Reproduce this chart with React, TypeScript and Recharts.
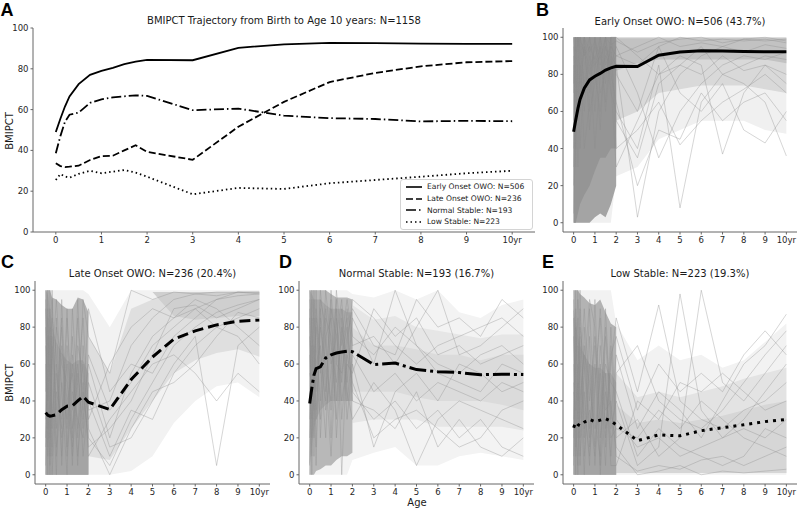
import React from 'react';
import { ComposedChart, Line, Area, XAxis, YAxis, Legend } from 'recharts';

const n = null;
const AGES = [0, 0.1, 0.2, 0.3, 0.5, 0.75, 1, 1.25, 1.5, 1.75, 2, 3, 4, 5, 6, 7, 8, 9, 10];
const X_TICKS = [0, 1, 2, 3, 4, 5, 6, 7, 8, 9, 10];
const Y_TICKS = [0, 20, 40, 60, 80, 100];

const SERIES_NAMES = ['Early Onset OWO: N=506', 'Late Onset OWO: N=236', 'Normal Stable: N=193', 'Low Stable: N=223'];
const PANEL_TITLES = [
  'BMIPCT Trajectory from Birth to Age 10 years: N=1158',
  'Early Onset OWO: N=506 (43.7%)',
  'Late Onset OWO: N=236 (20.4%)',
  'Normal Stable: N=193 (16.7%)',
  'Low Stable: N=223 (19.3%)',
];
const PANEL_LETTERS = ['A', 'B', 'C', 'D', 'E'];

// cluster mean trajectories
const EARLY_MEAN = [49, 55.5, 61.5, 66.5, 72.5, 77, 79, 80.5, 82.3, 83.5, 84.4, 84.2, 90.3, 92, 92.7, 92.6, 92.3, 92.2, 92.2];
const LATE_MEAN = [33.7, 32.3, 31.8, 32, 32.5, 35.3, 37.2, 37.4, 40, 42.5, 39.3, 35.4, 51.6, 63.8, 73.5, 78, 81.2, 83.2, 83.8];
const NORMAL_MEAN = [38.6, 47, 54, 57.5, 58.5, 63.3, 65, 66, 66.5, 67, 66.7, 59.7, 60.5, 57, 55.8, 55.4, 54.2, 54.5, 54.3];
const LOW_MEAN = [25.5, 28.4, 27.2, 26.6, 28.5, 30, 28.8, 29.6, 30.4, 29.1, 27.1, 18.5, 21.6, 21.1, 23.9, 25.5, 27.1, 28.8, 30];

// density envelopes of individual trajectories (Early Onset)
const B_LIGHT_LO = [0, 0, 0, 0, 0, 0, 0, 0, 0, 0, 25, 30, 45, 50, 55, 55, 55, 50, 48];
const B_LIGHT_HI = [100, 100, 100, 100, 100, 100, 100, 100, 100, 100, 100, 100, 100, 100, 100, 100, 100, 100, 100];
const B_MID_LO = [n, n, n, n, n, n, n, n, n, n, 55, 60, 70, 72, 74, 74, 74, 72, 70];
const B_MID_HI = [n, n, n, n, n, n, n, n, n, n, 100, 100, 100, 100, 100, 100, 100, 100, 100];
const B_TOP_LO = [n, n, n, n, n, n, n, n, n, n, 82, 86, 88, 88, 88, 88, 88, 88, 86];
const B_TOP_HI = [n, n, n, n, n, n, n, n, n, n, 99.5, 99.5, 99.5, 99.5, 99.5, 99.5, 99.5, 99.5, 99.5];
const B_DARK_LO = [0, 0, 0, 0, 0, 0, 3, 5, 3, 10, 20, n, n, n, n, n, n, n, n];
const B_DARK_HI = [100, 100, 100, 100, 100, 100, 100, 100, 100, 100, 100, n, n, n, n, n, n, n, n];
const B_CORE_LO = [0, 0, 5, 10, 15, 20, 28, 35, 35, 40, 40, n, n, n, n, n, n, n, n];
const B_CORE_HI = [100, 100, 100, 100, 100, 100, 100, 100, 100, 100, 100, n, n, n, n, n, n, n, n];

// Late Onset
const C_LIGHT_LO = [0, 0, 0, 0, 0, 0, 0, 0, 0, 0, 0, 0, 2, 10, 28, 40, 48, 50, 42];
const C_LIGHT_HI = [100, 100, 100, 100, 100, 100, 100, 100, 100, 100, 98, 80, 100, 100, 100, 100, 100, 100, 100];
const C_MID_LO = [n, n, n, n, n, n, n, n, n, n, 10, 8, 25, 40, 55, 62, 66, 68, 64];
const C_MID_HI = [n, n, n, n, n, n, n, n, n, n, 75, 55, 90, 95, 98, 99, 99, 99, 99];
const C_TOP_LO = [n, n, n, n, n, n, n, n, n, n, n, n, n, 99, 86, 84, 85, 86, 86];
const C_TOP_HI = [n, n, n, n, n, n, n, n, n, n, n, n, n, 99, 99, 99, 99, 99, 99];
const C_DARK_LO = [0, 0, 0, 0, 0, 0, 0, 0, 0, 0, 0, n, n, n, n, n, n, n, n];
const C_DARK_HI = [100, 100, 100, 96, 95, 92, 90, 90, 96, 95, 88, n, n, n, n, n, n, n, n];
const C_CORE_LO = [0, 0, 0, 0, 0, 0, 0, 0, 0, 0, 0, n, n, n, n, n, n, n, n];
const C_CORE_HI = [100, 98, 90, 80, 72, 66, 62, 60, 62, 62, 55, n, n, n, n, n, n, n, n];

// Normal Stable
const D_LIGHT_LO = [0, 0, 0, 0, 0, 0, 0, 0, 0, 0, 8, 12, 15, 5, 5, 10, 12, 10, 8];
const D_LIGHT_HI = [100, 100, 100, 100, 100, 100, 100, 100, 100, 100, 98, 96, 100, 95, 100, 88, 85, 92, 95];
const D_MID_LO = [n, n, n, n, n, n, n, n, n, n, 28, 30, 30, 30, 26, 26, 26, 26, 24];
const D_MID_HI = [n, n, n, n, n, n, n, n, n, n, 92, 84, 86, 80, 78, 76, 74, 76, 76];
const D_TOP_LO = [n, n, n, n, n, n, n, n, n, n, 45, 45, 45, 42, 40, 40, 40, 38, 35];
const D_TOP_HI = [n, n, n, n, n, n, n, n, n, n, 80, 70, 70, 68, 65, 65, 62, 65, 65];
const D_DARK_LO = [0, 0, 0, 2, 3, 5, 5, 8, 10, 10, 12, n, n, n, n, n, n, n, n];
const D_DARK_HI = [100, 100, 100, 100, 100, 100, 98, 96, 96, 96, 95, n, n, n, n, n, n, n, n];
const D_CORE_LO = [5, 15, 25, 30, 35, 38, 40, 40, 40, 40, 40, n, n, n, n, n, n, n, n];
const D_CORE_HI = [100, 98, 95, 95, 95, 92, 90, 90, 90, 88, 88, n, n, n, n, n, n, n, n];

// Low Stable
const E_LIGHT_LO = [0, 0, 0, 0, 0, 0, 0, 0, 0, 0, 0, 0, 0, 0, 0, 0, 0, 0, 0];
const E_LIGHT_HI = [100, 100, 100, 100, 100, 100, 100, 100, 100, 100, 82, 62, 70, 62, 65, 58, 62, 72, 82];
const E_MID_LO = [n, n, n, n, n, n, n, n, n, n, 1, 1, 1, 1, 1, 1, 1, 1, 1];
const E_MID_HI = [n, n, n, n, n, n, n, n, n, n, 55, 42, 45, 42, 45, 48, 52, 55, 58];
const E_TOP_LO = [n, n, n, n, n, n, n, n, n, n, 1, 1, 1, 1, 1, 1, 1, 1, 1];
const E_TOP_HI = [n, n, n, n, n, n, n, n, n, n, 38, 28, 30, 28, 30, 32, 35, 38, 40];
const E_DARK_LO = [0, 0, 0, 0, 0, 0, 0, 0, 0, 0, 0, n, n, n, n, n, n, n, n];
const E_DARK_HI = [100, 100, 100, 98, 96, 93, 92, 95, 88, 82, 80, n, n, n, n, n, n, n, n];
const E_CORE_LO = [0, 0, 0, 0, 0, 0, 0, 0, 0, 0, 0, n, n, n, n, n, n, n, n];
const E_CORE_HI = [90, 82, 75, 70, 65, 60, 58, 58, 55, 55, 50, n, n, n, n, n, n, n, n];

// sample individual trajectories per cluster
const B_TRAJ = [
  [90, 40, 100, 70, 95, 50, 85, 95, 60, 90, 85, 3, 60, 80, 90, 95, 92, 96, 94],
  [20, 85, 60, 100, 75, 90, 40, 80, 95, 70, 60, 40, 85, 8, 65, 80, 85, 90, 88],
  [70, 100, 30, 85, 60, 100, 80, 60, 90, 85, 95, 70, 35, 60, 75, 85, 90, 88, 92],
  [5, 50, 90, 60, 100, 80, 95, 85, 100, 75, 30, 55, 80, 90, 85, 37, 70, 85, 80],
  [100, 75, 55, 90, 40, 65, 100, 70, 80, 95, 90, 85, 95, 70, 60, 75, 50, 43, 60],
  [55, 95, 80, 40, 85, 95, 60, 100, 75, 100, 100, 90, 80, 85, 95, 80, 75, 65, 36],
  [85, 30, 100, 95, 70, 85, 90, 50, 100, 80, 65, 20, 50, 45, 70, 55, 65, 70, 55],
  [40, 100, 70, 80, 100, 60, 75, 95, 65, 100, 80, 60, 95, 100, 98, 99, 98, 99, 97],
  [95, 65, 85, 100, 90, 100, 85, 90, 95, 85, 90, 95, 100, 95, 97, 95, 99, 98, 99],
  [30, 90, 100, 75, 95, 70, 100, 80, 90, 95, 55, 35, 75, 85, 80, 90, 82, 85, 75],
  [75, 100, 95, 100, 90, 95, 88, 100, 85, 92, 40, 50, 65, 42, 55, 65, 72, 80, 70],
  [100, 85, 100, 90, 100, 92, 98, 88, 100, 96, 98, 92, 97, 99, 100, 97, 99, 100, 98],
];
const C_TRAJ = [
  [95, 10, 80, 30, 60, 20, 40, 15, 95, 30, 60, 20, 55, 75, 85, 90, 95, 97, 98],
  [5, 90, 20, 70, 10, 50, 30, 60, 10, 45, 20, 5, 30, 50, 70, 80, 88, 92, 95],
  [60, 0, 100, 15, 85, 5, 70, 25, 50, 85, 35, 40, 70, 85, 95, 98, 99, 99, 99],
  [30, 75, 5, 95, 25, 80, 10, 45, 30, 20, 50, 15, 20, 40, 60, 75, 5, 70, 80],
  [100, 40, 60, 0, 45, 30, 60, 5, 70, 55, 10, 30, 45, 60, 65, 55, 40, 55, 45],
  [15, 60, 90, 50, 0, 95, 25, 75, 20, 95, 75, 55, 100, 95, 99, 98, 97, 99, 98],
  [80, 25, 40, 85, 65, 10, 85, 35, 60, 10, 40, 10, 35, 30, 55, 70, 80, 85, 90],
  [45, 100, 10, 60, 95, 45, 0, 90, 40, 60, 30, 60, 80, 90, 85, 95, 90, 80, 70],
  [0, 50, 75, 25, 80, 60, 50, 20, 85, 35, 90, 45, 60, 55, 75, 85, 95, 99, 99],
  [70, 15, 35, 100, 15, 70, 40, 55, 5, 70, 25, 0, 25, 45, 50, 60, 75, 88, 85],
  [20, 85, 50, 10, 55, 25, 90, 10, 55, 25, 65, 35, 50, 70, 80, 90, 80, 75, 60],
  [90, 35, 0, 75, 35, 85, 15, 65, 25, 50, 15, 25, 40, 65, 90, 92, 85, 90, 95],
];
const D_TRAJ = [
  [40, 95, 20, 80, 55, 90, 60, 75, 95, 50, 85, 60, 100, 70, 55, 50, 45, 60, 55],
  [90, 10, 70, 30, 85, 45, 95, 20, 65, 80, 45, 30, 40, 25, 35, 20, 30, 15, 10],
  [5, 60, 95, 45, 100, 70, 35, 85, 50, 90, 70, 75, 60, 80, 100, 65, 70, 80, 90],
  [65, 30, 50, 100, 20, 75, 85, 40, 80, 30, 60, 15, 45, 55, 40, 60, 55, 45, 50],
  [100, 75, 10, 60, 70, 35, 55, 95, 0, 70, 95, 85, 70, 60, 70, 75, 80, 85, 75],
  [20, 85, 60, 15, 90, 55, 10, 65, 90, 45, 30, 50, 35, 5, 30, 40, 35, 30, 25],
  [75, 0, 85, 70, 40, 100, 70, 50, 75, 95, 75, 65, 80, 70, 60, 55, 65, 70, 60],
  [55, 50, 35, 90, 60, 20, 90, 75, 40, 60, 55, 90, 75, 85, 65, 70, 60, 65, 70],
  [0, 100, 75, 35, 80, 60, 40, 100, 70, 85, 40, 35, 25, 45, 15, 30, 15, 10, 20],
  [85, 40, 100, 55, 30, 85, 75, 30, 85, 40, 65, 45, 55, 40, 50, 45, 40, 50, 45],
  [30, 70, 45, 85, 65, 40, 100, 60, 55, 75, 90, 70, 65, 95, 80, 85, 75, 95, 85],
  [95, 20, 55, 5, 95, 80, 20, 90, 30, 65, 50, 20, 30, 35, 25, 15, 20, 35, 40],
];
const E_TRAJ = [
  [60, 10, 95, 30, 70, 15, 50, 85, 20, 60, 85, 45, 92, 40, 30, 25, 35, 40, 50],
  [10, 80, 40, 100, 20, 90, 30, 10, 75, 25, 40, 5, 15, 98, 35, 20, 30, 45, 60],
  [95, 25, 5, 55, 90, 40, 75, 45, 5, 70, 20, 30, 10, 20, 100, 50, 40, 55, 70],
  [30, 60, 85, 10, 45, 5, 95, 20, 55, 10, 55, 70, 40, 30, 25, 35, 50, 65, 78],
  [0, 100, 20, 75, 10, 60, 15, 70, 35, 40, 10, 2, 5, 3, 8, 10, 5, 10, 15],
  [75, 35, 60, 5, 80, 25, 60, 5, 90, 30, 65, 25, 45, 35, 20, 40, 60, 70, 87],
  [45, 0, 70, 50, 0, 75, 5, 55, 15, 80, 30, 15, 20, 10, 15, 20, 25, 20, 30],
  [100, 50, 30, 90, 35, 10, 45, 90, 50, 5, 5, 40, 30, 50, 45, 55, 45, 35, 40],
  [20, 90, 10, 40, 65, 50, 25, 35, 60, 50, 45, 10, 25, 15, 10, 5, 10, 25, 20],
  [85, 15, 50, 20, 55, 95, 80, 0, 45, 20, 25, 20, 35, 25, 40, 30, 20, 15, 10],
  [5, 70, 100, 60, 25, 35, 10, 60, 25, 65, 75, 35, 60, 45, 55, 45, 65, 78, 65],
  [50, 30, 0, 80, 60, 20, 70, 30, 80, 35, 15, 0, 2, 5, 0, 2, 1, 2, 3],
];

const B_COLORS = ['#f0f0f0', '#d9d9d9', '#c2c2c2', '#a4a4a4', '#959595'];
const C_COLORS = ['#f2f2f2', '#dfdfdf', '#cfcfcf', '#b3b3b3', '#a4a4a4'];
const D_COLORS = ['#f3f3f3', '#e6e6e6', '#dbdbdb', '#b8b8b8', '#a8a8a8'];
const E_COLORS = ['#f2f2f2', '#e3e3e3', '#d6d6d6', '#b3b3b3', '#a4a4a4'];
const A_DASH = ['', '7 3', '10 3 1.5 3', '1.5 3'];
const BIG_DASH = ['', '11 5', '17 4 3 4', '3 5'];
const SPINE = '#666';
const FONT = 'DejaVu Sans';

const fmtX = (v: number) => (v === 10 ? '10yr' : String(v));

type LineSpec = { values: (number | null)[]; dash?: string; width: number; color: string; opacity?: number };
type BandSpec = { lo: (number | null)[]; hi: (number | null)[]; color: string };

function Panel(props: any) {
  const { left, top, width, height, yw, mr, mt, xh, yDomain, lines, bands, legend } = props;
  const rows = AGES.map((age, i) => {
    const r: any = { age };
    (bands as BandSpec[]).forEach((b, k) => {
      r['b' + k] = b.lo[i] == null || b.hi[i] == null ? null : [b.lo[i], b.hi[i]];
    });
    (lines as LineSpec[]).forEach((l, k) => {
      r['l' + k] = l.values[i];
    });
    return r;
  });
  const tickStyle = { fontSize: 8.5, fill: '#262626', fontFamily: FONT };
  return (
    <div style={{ position: 'absolute', left, top, width, height }}>
      <ComposedChart width={width} height={height} data={rows} margin={{ top: mt, right: mr, bottom: 0, left: 0 }}>
        <XAxis xAxisId="b" dataKey="age" type="number" domain={[-0.5, 10.5]} ticks={X_TICKS} interval={0}
          tickFormatter={fmtX} height={xh} tickSize={2.5} tickMargin={2} allowDataOverflow
          tick={tickStyle} stroke={SPINE} />
        <XAxis xAxisId="t" orientation="top" type="number" domain={[-0.5, 10.5]} height={0}
          tick={false} tickLine={false} allowDataOverflow stroke={SPINE} />
        <YAxis yAxisId="l" type="number" domain={yDomain} ticks={Y_TICKS} interval={0} width={yw}
          tickSize={2.5} tickMargin={2} allowDataOverflow tick={tickStyle} stroke={SPINE} />
        <YAxis yAxisId="r" orientation="right" type="number" domain={yDomain} width={0}
          tick={false} tickLine={false} allowDataOverflow stroke={SPINE} />
        {(bands as BandSpec[]).map((b, k) => (
          <Area key={'b' + k} xAxisId="b" yAxisId="l" type="linear" dataKey={'b' + k} stroke="none"
            fill={b.color} fillOpacity={1} isAnimationActive={false} dot={false} activeDot={false} />
        ))}
        {(lines as LineSpec[]).map((l, k) => (
          <Line key={'l' + k} xAxisId="b" yAxisId="l" type="linear" dataKey={'l' + k} name={'l' + k}
            stroke={l.color} strokeWidth={l.width} strokeOpacity={l.opacity ?? 1}
            strokeDasharray={l.dash || undefined} dot={false} activeDot={false} isAnimationActive={false} />
        ))}
        {legend ? (
          <Legend layout="horizontal" verticalAlign="middle" align="center"
            wrapperStyle={{ left: 400, top: 179, width: 133, height: 50 }}
            content={() => (
              <div style={{ border: '1px solid #d4d4d4', borderRadius: 3, background: 'rgba(255,255,255,0.85)', padding: '1px 0', width: 133, boxSizing: 'border-box' }}>
                {SERIES_NAMES.map((name, i) => (
                  <div key={i} style={{ display: 'flex', alignItems: 'center', height: 11.7, fontFamily: FONT, fontSize: 7.6, color: '#222', whiteSpace: 'nowrap' }}>
                    <svg width={26} height={8} style={{ flex: 'none' }}>
                      <line x1={5} x2={21} y1={4} y2={4} stroke="#000" strokeWidth={1.6} strokeDasharray={A_DASH[i] || undefined} />
                    </svg>
                    <span>{name}</span>
                  </div>
                ))}
              </div>
            )}
          />
        ) : null}
      </ComposedChart>
    </div>
  );
}

function traj(list: number[][]): LineSpec[] {
  return list.map((values) => ({ values, width: 0.6, color: '#8c8c8c', opacity: 0.6 }));
}
function bandsOf(los: any[], his: any[], colors: string[]): BandSpec[] {
  return los.map((lo, k) => ({ lo, hi: his[k], color: colors[k] }));
}

export default function App() {
  const meanA: LineSpec[] = [EARLY_MEAN, LATE_MEAN, NORMAL_MEAN, LOW_MEAN].map((v, i) => ({
    values: v, dash: A_DASH[i], width: 1.8, color: '#000',
  }));
  const big = (v: number[], i: number): LineSpec => ({ values: v, dash: BIG_DASH[i], width: 3, color: '#000' });
  const bottomY = [-5, 105];
  return (
    <div style={{ position: 'absolute', left: 0, top: 0, width: 800, height: 509, background: '#fff', overflow: 'hidden' }}>
      <Panel left={0} top={0} width={540} height={250} yw={33} mr={5} mt={28} xh={18} yDomain={[0, 100]}
        bands={[]} lines={meanA} legend />
      <Panel left={530} top={0} width={270} height={250} yw={33} mr={3} mt={28} xh={18} yDomain={bottomY}
        bands={bandsOf([B_LIGHT_LO, B_MID_LO, B_TOP_LO, B_DARK_LO, B_CORE_LO], [B_LIGHT_HI, B_MID_HI, B_TOP_HI, B_DARK_HI, B_CORE_HI], B_COLORS)}
        lines={[...traj(B_TRAJ), big(EARLY_MEAN, 0)]} />
      <Panel left={0} top={250} width={275} height={252} yw={35} mr={5} mt={31} xh={18} yDomain={bottomY}
        bands={bandsOf([C_LIGHT_LO, C_MID_LO, C_TOP_LO, C_DARK_LO, C_CORE_LO], [C_LIGHT_HI, C_MID_HI, C_TOP_HI, C_DARK_HI, C_CORE_HI], C_COLORS)}
        lines={[...traj(C_TRAJ), big(LATE_MEAN, 1)]} />
      <Panel left={266} top={250} width={270} height={252} yw={33} mr={2} mt={31} xh={18} yDomain={bottomY}
        bands={bandsOf([D_LIGHT_LO, D_MID_LO, D_TOP_LO, D_DARK_LO, D_CORE_LO], [D_LIGHT_HI, D_MID_HI, D_TOP_HI, D_DARK_HI, D_CORE_HI], D_COLORS)}
        lines={[...traj(D_TRAJ), big(NORMAL_MEAN, 2)]} />
      <Panel left={530} top={250} width={270} height={252} yw={33} mr={3} mt={31} xh={18} yDomain={bottomY}
        bands={bandsOf([E_LIGHT_LO, E_MID_LO, E_TOP_LO, E_DARK_LO, E_CORE_LO], [E_LIGHT_HI, E_MID_HI, E_TOP_HI, E_DARK_HI, E_CORE_HI], E_COLORS)}
        lines={[...traj(E_TRAJ), big(LOW_MEAN, 3)]} />
      <svg width={800} height={509} style={{ position: 'absolute', left: 0, top: 0, pointerEvents: 'none' }}>
        <g fontFamily="Liberation Sans, Arial, sans-serif" fontWeight="bold" fontSize={18} fill="#000">
          <text x={0.5} y={16}>{PANEL_LETTERS[0]}</text>
          <text x={536} y={16}>{PANEL_LETTERS[1]}</text>
          <text x={1} y={268}>{PANEL_LETTERS[2]}</text>
          <text x={279} y={268}>{PANEL_LETTERS[3]}</text>
          <text x={542} y={268}>{PANEL_LETTERS[4]}</text>
        </g>
        <g fontFamily={FONT} fontSize={10} fill="#1a1a1a" textAnchor="middle">
          <text x={284} y={24}>{PANEL_TITLES[0]}</text>
          <text x={680} y={24.5}>{PANEL_TITLES[1]}</text>
          <text x={152.5} y={277}>{PANEL_TITLES[2]}</text>
          <text x={416.5} y={277}>{PANEL_TITLES[3]}</text>
          <text x={680} y={277}>{PANEL_TITLES[4]}</text>
          <text x={12.5} y={131} transform="rotate(-90 12.5 131)">BMIPCT</text>
          <text x={13} y={383} transform="rotate(-90 13 383)">BMIPCT</text>
          <text x={417} y={505.5}>Age</text>
        </g>
      </svg>
    </div>
  );
}
